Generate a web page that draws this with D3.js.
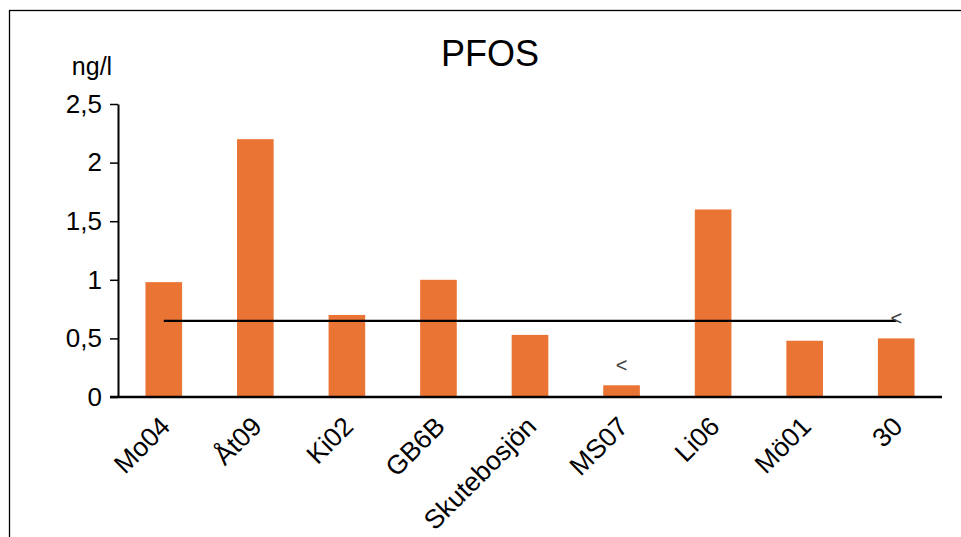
<!DOCTYPE html>
<html>
<head>
  <meta charset="utf-8">
  <script src="https://cdn.jsdelivr.net/npm/d3@7"></script>
  <style>
    body { margin: 0; background: #fff; }
    text { font-family: "Liberation Sans", Arial, sans-serif; }
  </style>
</head>
<body>
<div id="chart"></div>
<script>
  var stations = ['Mo04', 'Åt09', 'Ki02', 'GB6B', 'Skutebosjön', 'MS07', 'Li06', 'Mö01', '30'];
  var pfos = [0.98, 2.2, 0.7, 1.0, 0.53, 0.1, 1.6, 0.48, 0.5];
  var limit = [0.65, 0.65, 0.65, 0.65, 0.65, 0.65, 0.65, 0.65, 0.65];
  var barNotes = ['', '', '', '', '', '<', '', '', ''];
  var limitNotes = ['', '', '', '', '', '', '', '', '<'];
  var yTicks = [0, 0.5, 1, 1.5, 2, 2.5];

  var W = 961, H = 537;
  var margin = { top: 104, left: 118, right: 19, bottom: 140 };

  var svg = d3.select('#chart').append('svg')
    .attr('width', W).attr('height', H);

  // outer chart border
  svg.append('rect')
    .attr('x', 9.5).attr('y', 10.5)
    .attr('width', W + 20).attr('height', H + 20)
    .attr('fill', 'none').attr('stroke', '#000').attr('stroke-width', 1.3);

  var x = d3.scaleBand()
    .domain(stations)
    .range([margin.left, W - margin.right])
    .paddingInner(0.6).paddingOuter(0.3);

  var y = d3.scaleLinear()
    .domain([0, 2.5])
    .range([H - margin.bottom, margin.top]);

  var fmt = function(d) { return String(d).replace('.', ','); };

  // bars
  svg.selectAll('.bar')
    .data(pfos)
    .enter().append('rect')
    .attr('class', 'bar')
    .attr('x', function(d, i) { return x(stations[i]); })
    .attr('y', function(d) { return y(d); })
    .attr('width', x.bandwidth())
    .attr('height', function(d) { return y(0) - y(d); })
    .attr('fill', '#EA7434');

  // limit line
  var line = d3.line()
    .x(function(d, i) { return x(stations[i]) + x.bandwidth() / 2; })
    .y(function(d) { return y(d); });

  svg.append('path')
    .datum(limit)
    .attr('d', line)
    .attr('fill', 'none')
    .attr('stroke', '#000')
    .attr('stroke-width', 2.2);

  // y axis
  var yAxis = svg.append('g')
    .attr('transform', 'translate(' + margin.left + ',0)')
    .call(d3.axisLeft(y).tickValues(yTicks).tickFormat(fmt).tickSize(8).tickSizeOuter(0));
  yAxis.select('.domain').attr('stroke-width', 2);
  yAxis.selectAll('.tick line').attr('stroke-width', 1.5);
  yAxis.selectAll('.tick text')
    .attr('x', -16)
    .attr('font-size', 26)
    .attr('font-family', '"Liberation Sans", Arial, sans-serif')
    .attr('fill', '#000');

  // x axis
  var xAxis = svg.append('g')
    .attr('transform', 'translate(0,' + y(0) + ')')
    .call(d3.axisBottom(x).tickSize(0).tickSizeOuter(0));
  xAxis.select('.domain').attr('stroke-width', 2.6)
    .attr('d', 'M' + (margin.left - 8) + ',0H' + (W - margin.right));
  xAxis.selectAll('.tick text')
    .attr('font-size', 26.5)
    .attr('font-family', '"Liberation Sans", Arial, sans-serif')
    .attr('fill', '#000')
    .attr('text-anchor', 'end')
    .attr('dy', 0)
    .attr('y', 0)
    .attr('transform', 'translate(8,31) rotate(-45)');

  // data notes
  svg.selectAll('.bnote')
    .data(pfos)
    .enter().append('text')
    .attr('x', function(d, i) { return x(stations[i]) + x.bandwidth() / 2; })
    .attr('y', function(d) { return y(d) - 13; })
    .attr('text-anchor', 'middle')
    .attr('font-size', 20)
    .attr('fill', '#404040')
    .text(function(d, i) { return barNotes[i]; });

  svg.selectAll('.lnote')
    .data(limit)
    .enter().append('text')
    .attr('x', function(d, i) { return x(stations[i]) + x.bandwidth() / 2; })
    .attr('y', function(d) { return y(d) + 4; })
    .attr('text-anchor', 'middle')
    .attr('font-size', 20)
    .attr('fill', '#404040')
    .text(function(d, i) { return limitNotes[i]; });

  // title and unit
  svg.append('text')
    .attr('x', 490).attr('y', 66)
    .attr('text-anchor', 'middle')
    .attr('font-size', 36)
    .text('PFOS');

  svg.append('text')
    .attr('x', 92).attr('y', 75)
    .attr('text-anchor', 'middle')
    .attr('font-size', 25)
    .text('ng/l');
</script>
</body>
</html>
